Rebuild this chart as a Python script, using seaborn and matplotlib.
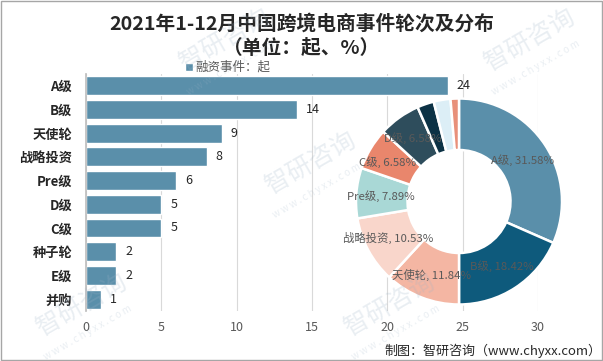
import matplotlib
matplotlib.use("Agg")
import matplotlib.pyplot as plt
import seaborn as sns
import pandas as pd

# 数据
categories = ["A级", "B级", "天使轮", "战略投资", "Pre级", "D级", "C级", "种子轮", "E级", "并购"]
counts = [24, 14, 9, 8, 6, 5, 5, 2, 2, 1]

pie_labels = ["A级", "B级", "天使轮", "战略投资", "Pre级", "C级", "D级", "种子轮", "E级", "并购"]
pie_shares = [31.58, 18.42, 11.84, 10.53, 7.89, 6.58, 6.58, 2.63, 2.63, 1.32]
pie_colors = ["#5A8FAA", "#0E5A7C", "#F4B6A3", "#F9D6CB", "#A9D8D6",
              "#E9866C", "#2E4D5C", "#0C3245", "#DCEEF6", "#E8907A"]

bar_color = "#5A8FAA"
text_grey = "#595959"

sns.set_theme(style="white")
plt.rcParams["font.family"] = ["Noto Sans CJK SC", "DejaVu Sans"]

df = pd.DataFrame({"轮次": categories, "数量": counts})

W, H = 603, 361
fig = plt.figure(figsize=(W / 100, H / 100), dpi=100)
fig.patch.set_facecolor("white")

# 条形图
ax = fig.add_axes([0.1426, 0.1385, 0.7496, 0.657])
sns.barplot(data=df, x="数量", y="轮次", color=bar_color, width=0.8,
            saturation=1, ax=ax, label="融资事件：起")
ax.set_xlim(0, 30)
ax.set_xticks(range(0, 31, 5))
ax.set_xlabel("")
ax.set_ylabel("")
ax.grid(axis="x", color="#D9D9D9", linewidth=0.8)
ax.set_axisbelow(True)
for s in ["top", "right", "bottom"]:
    ax.spines[s].set_visible(False)
ax.spines["left"].set_color("#BFBFBF")
ax.tick_params(axis="x", colors=text_grey, labelsize=9, length=0, pad=7)
ax.tick_params(axis="y", length=0, pad=10)
for lab in ax.get_yticklabels():
    lab.set_fontweight("bold")
    lab.set_fontsize(9.5)
    lab.set_color("#262626")
for i, v in enumerate(counts):
    ax.text(v + 0.6, i, str(v), va="center", ha="left", fontsize=9, color="#262626")
ax.legend(loc="center", bbox_to_anchor=(0.378, 0.813), bbox_transform=fig.transFigure,
          frameon=False, fontsize=9, handlelength=0.6, handleheight=0.6,
          handletextpad=0.2, labelcolor=text_grey)

# 环形图
pax = fig.add_axes([(459 - 103) / W, 1 - (201.5 + 103.5) / H, 206 / W, 207 / H])
wedges, _ = pax.pie(pie_shares, colors=pie_colors, startangle=90, counterclock=False,
                    radius=1, wedgeprops=dict(width=0.5, edgecolor="white", linewidth=1.8))
pax.set_xlim(-1, 1)
pax.set_ylim(-1, 1)
label_pos = {
    "A级": (0.62, 0.40), "B级": (0.42, -0.63), "天使轮": (-0.27, -0.71),
    "战略投资": (-0.69, -0.35), "Pre级": (-0.76, 0.05), "C级": (-0.69, 0.38),
    "D级": (-0.45, 0.62),
}
for name, share in zip(pie_labels, pie_shares):
    if name in label_pos:
        x, y = label_pos[name]
        pax.text(x, y, f"{name}, {share:.2f}%", ha="center", va="center",
                 fontsize=8.2, color=text_grey)

# 标题
fig.text(0.5, 0.935, "2021年1-12月中国跨境电商事件轮次及分布", ha="center", va="center",
         fontsize=14.2, fontweight="bold", color="#262626")
fig.text(0.5, 0.865, "（单位：起、%）", ha="center", va="center",
         fontsize=14.2, fontweight="bold", color="#262626")
fig.text(0.997, 0.028, "制图：智研咨询（www.chyxx.com）", ha="right", va="center",
         fontsize=9.4, color="#262626")

# 水印
marks = [(225, 40), (530, 40), (311, 163), (82, 305), (390, 305)]
for mx, my in marks:
    fig.text(mx / W, 1 - my / H, "智研咨询", rotation=30, rotation_mode="anchor",
             ha="center", va="center", fontsize=18, color="#9DB3C7", alpha=0.22,
             zorder=10)
    fig.text((mx + 6) / W, 1 - (my + 28) / H, "w w w . c h y x x . c o m", rotation=30,
             rotation_mode="anchor", ha="center", va="center", fontsize=7,
             color="#9DB3C7", alpha=0.22, zorder=10)

fig.add_artist(plt.Rectangle((0.001, 0.002), 0.997, 0.995, transform=fig.transFigure,
                             fill=False, edgecolor="#A6A6A6", linewidth=1))

fig.savefig("out.png", dpi=100)
